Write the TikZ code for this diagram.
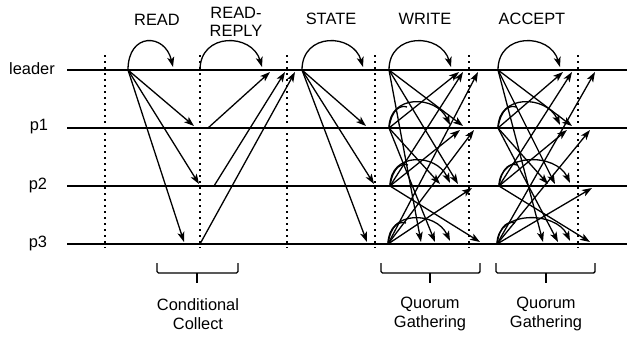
\documentclass[tikz,border=0pt]{standalone}
\usepackage{fontspec}
\setmainfont{Liberation Sans}
\usetikzlibrary{arrows.meta}
\begin{document}
\begin{tikzpicture}[x=1pt,y=-1pt,
  proc/.style={line width=1.6pt},
  msg/.style={line width=1.3pt,-{Stealth[length=10pt,width=7pt,inset=2.5pt]}},
  sep/.style={line width=1.7pt,dash pattern=on 1.7pt off 4.3pt},
  lbl/.style={font=\fontsize{16.4}{18.5}\selectfont,align=center,inner sep=0pt},
  brk/.style={line width=1.4pt,rounded corners=1.5pt}]
\useasboundingbox (0,0) rectangle (627,341);
% process lines
\foreach \n/\y in {L/70,1/128,2/186,3/244}{
  \coordinate (ln\n s) at (67,\y);
  \coordinate (ln\n e) at (627,\y);
  \draw[proc] (ln\n s) -- (ln\n e);
}
\node[lbl] (nL) at (32,69) {leader};
\node[lbl] (n1) at (39,127) {p1};
\node[lbl] (n2) at (38,185) {p2};
\node[lbl] (n3) at (38,243) {p3};
% phase labels
\node[lbl] (tRead) at (157,20) {READ};
\node[lbl] (tReply) at (236,22) {READ-\\REPLY};
\node[lbl] (tState) at (331,19) {STATE};
\node[lbl] (tWrite) at (425,19) {WRITE};
\node[lbl] (tAccept) at (532,19) {ACCEPT};
% dotted separators
\foreach \i/\x in {a/105,b/200,c/287,d/375,e/469,f/578}{
  \coordinate (d\i t) at (\x,55);
  \coordinate (d\i b) at (\x,248);
  \draw[sep] (d\i t) -- (d\i b);
}
% READ
\coordinate (rS) at (128,70);
\coordinate (rA) at (173,67);
\coordinate (r1) at (194,126);
\coordinate (r2) at (199,184);
\coordinate (r3) at (184,242);
\draw[msg] (rS) .. controls +(0,-38) and +(-8,-34) .. (rA);
\foreach \t in {r1,r2,r3} \draw[msg] (rS) -- (\t);
% READ-REPLY
\coordinate (yS) at (200,70);
\coordinate (yA) at (262,67);
\draw[msg] (yS) .. controls +(0,-38) and +(-10,-34) .. (yA);
\coordinate (y1s) at (208,128); \coordinate (y1) at (270,72);
\coordinate (y2s) at (214,186); \coordinate (y2) at (285,72);
\coordinate (y3s) at (200,244); \coordinate (y3) at (295,72);
\draw[msg] (y1s) -- (y1);
\draw[msg] (y2s) -- (y2);
\draw[msg] (y3s) -- (y3);
% STATE
\coordinate (sS) at (302,70);
\coordinate (sA) at (363,67);
\coordinate (s1) at (366,126);
\coordinate (s2) at (374,184);
\coordinate (s3) at (367,242);
\draw[msg] (sS) .. controls +(0,-38) and +(-10,-34) .. (sA);
\foreach \t in {s1,s2,s3} \draw[msg] (sS) -- (\t);
% WRITE
\coordinate (wL) at (389,70);
\coordinate (w1) at (389,128);
\coordinate (w2) at (390,186);
\coordinate (w3) at (388,244);
\coordinate (wLa) at (451,67);
\coordinate (w1a) at (450,125);
\coordinate (w2a) at (450,183);
\coordinate (w3a) at (450,241);
\draw[msg] (wL) .. controls +(0,-38) and +(-10,-34) .. (wLa);
\foreach \s in {1,2,3}{
  \draw[msg] (w\s) .. controls +(0,-34) and +(-14,-30) .. (w\s a);
  \draw[line width=1.3pt] (w\s) .. controls +(3,-20) and +(-6,-2) .. ++(18,-21);
}
\foreach \n/\x/\y in {wL1/463/126,wL2/458/184,wL3/421/242,
  w1L/459/72,w12/440/184,w13/435/242,
  w2L/463/72,w21/460/130,w23/480/242,
  w3L/478/72,w31/474/130,w32/472/188}
  \coordinate (\n) at (\x,\y);
\foreach \s/\t in {wL/wL1,wL/wL2,wL/wL3,w1/w1L,w1/w12,w1/w13,
  w2/w2L,w2/w21,w2/w23,w3/w3L,w3/w31,w3/w32}
  \draw[msg] (\s) -- (\t);
% ACCEPT
\coordinate (aL) at (498,70);
\coordinate (a1) at (498,128);
\coordinate (a2) at (499,186);
\coordinate (a3) at (497,244);
\coordinate (aLa) at (560,67);
\coordinate (a1a) at (560,125);
\coordinate (a2a) at (570,183);
\coordinate (a3a) at (570,241);
\draw[msg] (aL) .. controls +(0,-38) and +(-10,-34) .. (aLa);
\foreach \s in {1,2,3}{
  \draw[msg] (a\s) .. controls +(0,-34) and +(-14,-30) .. (a\s a);
  \draw[line width=1.3pt] (a\s) .. controls +(3,-20) and +(-6,-2) .. ++(18,-21);
}
\foreach \n/\x/\y in {aL1/572/126,aL2/555/184,aL3/543/242,
  a1L/563/72,a12/548/184,a13/558/242,
  a2L/572/72,a21/567/130,a23/590/242,
  a3L/595/72,a31/590/130,a32/592/188}
  \coordinate (\n) at (\x,\y);
\foreach \s/\t in {aL/aL1,aL/aL2,aL/aL3,a1/a1L,a1/a12,a1/a13,
  a2/a2L,a2/a21,a2/a23,a3/a3L,a3/a31,a3/a32}
  \draw[msg] (\s) -- (\t);
% brackets
\draw[brk] (157,263) -- (157,273) -- (238,273) -- (238,263);
\draw[brk] (197,273) -- (197,283);
\draw[brk] (381,263) -- (381,273) -- (480,273) -- (480,263);
\draw[brk] (430,273) -- (430,283);
\draw[brk] (496,263) -- (496,273) -- (595,273) -- (595,263);
\draw[brk] (546,273) -- (546,283);
\node[lbl] (cc) at (198,314) {Conditional\\Collect};
\node[lbl] (qg1) at (430,314) {Quorum\\Gathering};
\node[lbl] (qg2) at (546,314) {Quorum\\Gathering};
\end{tikzpicture}
\end{document}
